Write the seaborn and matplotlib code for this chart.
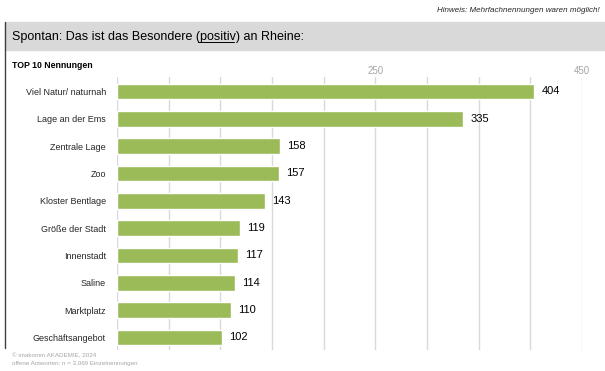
import matplotlib
matplotlib.use("Agg")
import matplotlib.pyplot as plt
import seaborn as sns
import pandas as pd
from matplotlib.lines import Line2D

# Data
categories = ["Viel Natur/ naturnah", "Lage an der Ems", "Zentrale Lage", "Zoo",
              "Kloster Bentlage", "Größe der Stadt", "Innenstadt", "Saline",
              "Marktplatz", "Geschäftsangebot"]
counts = [404, 335, 158, 157, 143, 119, 117, 114, 110, 102]
grid_ticks = list(range(0, 451, 50))
shown_ticks = [250, 450]

df = pd.DataFrame({"Nennung": categories, "Anzahl": counts})

sns.set_style("white")
plt.rcParams["font.family"] = ["Liberation Sans", "DejaVu Sans"]

fig = plt.figure(figsize=(6.05, 3.71), dpi=100)
ax = fig.add_axes([117 / 605, 1 - 350 / 371, 465 / 605, 273 / 371])

sns.barplot(data=df, x="Anzahl", y="Nennung", orient="h", color="#9BBB59",
            saturation=1, width=0.57, ax=ax, zorder=3)

ax.set_xlim(0, 450)
ax.set_ylim(9.46, -0.53)
ax.xaxis.tick_top()
ax.set_xticks(grid_ticks)
ax.set_xticklabels([str(t) if t in shown_ticks else "" for t in grid_ticks],
                   color="#a6a6a6", fontsize=7)
ax.tick_params(axis="x", length=0, pad=1)
ax.tick_params(axis="y", length=0, pad=8, labelsize=6.5, labelcolor="#262626")
ax.grid(axis="x", color="#d9d9d9", linewidth=1, zorder=0)
ax.grid(axis="y", visible=False)
for s in ax.spines.values():
    s.set_visible(False)
ax.set_xlabel("")
ax.set_ylabel("")

ax.bar_label(ax.containers[0], padding=5, fontsize=8, color="#000000")

# Header band
fig.patches.append(plt.Rectangle((5 / 605, 1 - 50 / 371), 600 / 605, 28 / 371,
                                 transform=fig.transFigure, color="#d9d9d9", zorder=0))
fig.add_artist(Line2D([5 / 605, 5 / 605], [1 - 22 / 371, 1 - 348 / 371],
                      transform=fig.transFigure, color="#404040", linewidth=1))

tx, ty = 12 / 605, 1 - 37 / 371
fs_title = 9.0
prefix = "Spontan: Das ist das Besondere ("
word = "positiv"
title = fig.text(tx, ty, prefix + word + ") an Rheine:", fontsize=fs_title,
                 va="center", color="#000000")
fig.canvas.draw()
r = fig.canvas.get_renderer()
t1 = fig.text(tx, ty, prefix, fontsize=fs_title, va="center", alpha=0)
t2 = fig.text(tx, ty, prefix + word, fontsize=fs_title, va="center", alpha=0)
b1 = t1.get_window_extent(renderer=r)
b2 = t2.get_window_extent(renderer=r)
inv = fig.transFigure.inverted()
x0 = inv.transform((b1.x1 - 1.5, 0))[0]
x1 = inv.transform((b2.x1 - 1.5, 0))[0]
yline = inv.transform((0, b2.y0 + 1))[1]
fig.add_artist(Line2D([x0, x1], [yline, yline], transform=fig.transFigure,
                      color="#000000", linewidth=0.7))

fig.text(600 / 605, 1 - 11 / 371, "Hinweis: Mehrfachnennungen waren möglich!",
         fontsize=5.8, style="italic", ha="right", va="center", color="#262626")
fig.text(12 / 605, 1 - 66 / 371, "TOP 10 Nennungen", fontsize=6.3,
         fontweight="bold", va="center", color="#000000")

fig.text(12 / 605, 1 - 356 / 371, "© imakomm AKADEMIE, 2024", fontsize=4.5,
         va="center", color="#a6a6a6")
fig.text(12 / 605, 1 - 364 / 371, "offene Antworten: n = 3.069 Einzelnennungen",
         fontsize=4.5, va="center", color="#a6a6a6")

fig.savefig("out.png", dpi=100)
